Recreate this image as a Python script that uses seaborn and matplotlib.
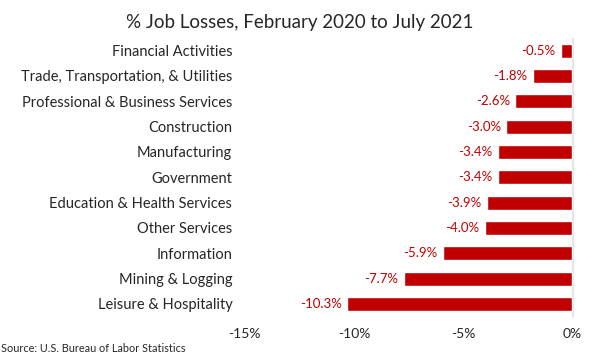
import pandas as pd
import matplotlib.pyplot as plt
import seaborn as sns

sectors = ["Financial Activities", "Trade, Transportation, & Utilities",
           "Professional & Business Services", "Construction", "Manufacturing",
           "Government", "Education & Health Services", "Other Services",
           "Information", "Mining & Logging", "Leisure & Hospitality"]
losses = [-0.5, -1.8, -2.6, -3.0, -3.4, -3.4, -3.9, -4.0, -5.9, -7.7, -10.3]
xticks = [-15, -10, -5, 0]
xtick_labels = ["-15%", "-10%", "-5%", "0%"]

df = pd.DataFrame({"sector": sectors, "loss": losses})

sns.set_style("white")
plt.rcParams['font.family'] = ['Lato', 'DejaVu Sans']

fig = plt.figure(figsize=(6, 3.55), dpi=100)
ax = fig.add_axes([0.408, 0.108, 0.547, 0.785])

sns.barplot(data=df, x="loss", y="sector", color="#c00000", width=0.55,
            saturation=1, ax=ax)

for i, v in enumerate(losses):
    ax.text(v - 0.25, i, f"{v:.1f}%", color="#c00000", fontsize=9.5,
            ha="right", va="center")

ax.set_xlim(-15, 0.05)
ax.set_xticks(xticks)
ax.set_xticklabels(xtick_labels, fontsize=10)
ax.tick_params(axis="y", labelsize=10.5, length=0, pad=9)
ax.tick_params(axis="x", length=0, pad=8)
ax.set_xlabel("")
ax.set_ylabel("")
for s in ["top", "left", "bottom"]:
    ax.spines[s].set_visible(False)
ax.spines["right"].set_color("#e6e6e6")
ax.axvline(0, color="#e6e6e6", lw=1, zorder=0)

fig.text(0.5, 0.937, "% Job Losses, February 2020 to July 2021",
         ha="center", va="center", fontsize=13.5)
fig.text(0.002, 0.003, "Source: U.S. Bureau of Labor Statistics",
         ha="left", va="bottom", fontsize=7.8)

fig.savefig("out.png", dpi=100)
